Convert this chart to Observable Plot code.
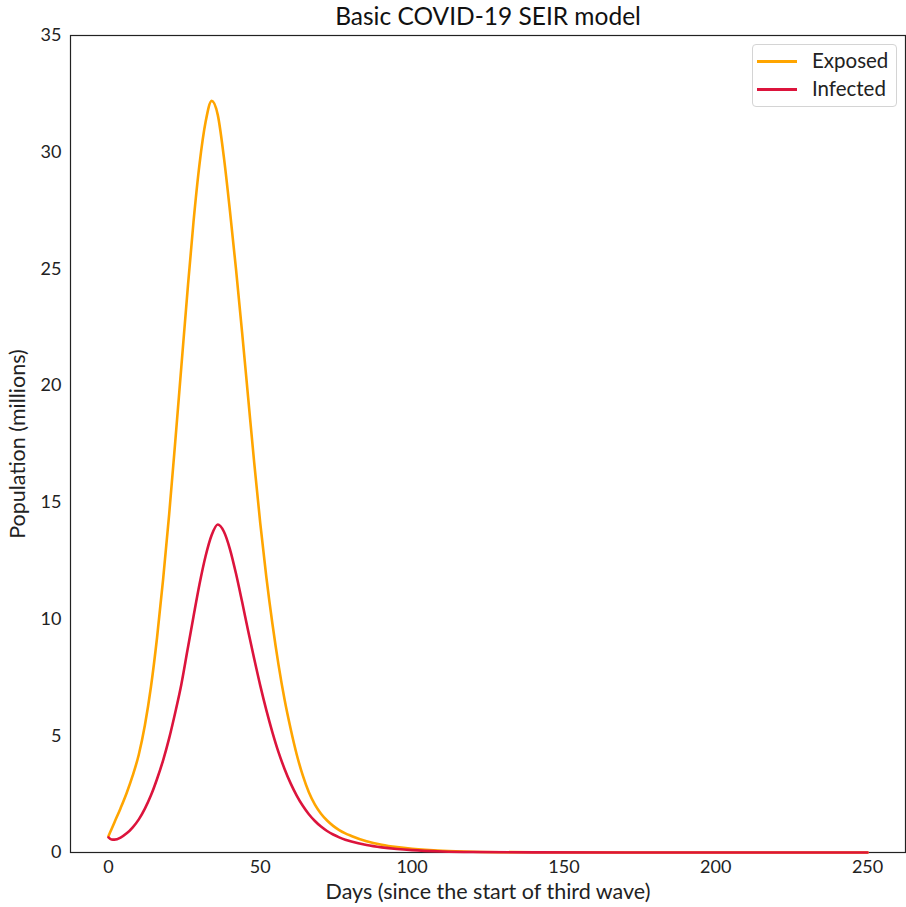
<!DOCTYPE html>
<html>
<head>
<meta charset="utf-8">
<script src="https://cdn.jsdelivr.net/npm/d3@7"></script>
<script src="https://cdn.jsdelivr.net/npm/@observablehq/plot@0.6"></script>
<style>
  body { margin: 0; background: white; font-family: Lato, sans-serif; }
  #wrap { position: relative; width: 906px; height: 907px; }
  #legend { position: absolute; left: 752px; top: 44px; width: 143px; height: 61px;
    border: 1px solid #d4d4d4; border-radius: 4px; background: rgba(255,255,255,0.85);
    font-family: Lato, sans-serif; font-size: 20.5px; color: #222; }
  .entry { position: absolute; left: 0; height: 22px; }
  .entry .ln { position: absolute; left: 4px; width: 40px; height: 3px; top: 10px; }
  .entry .tx { position: absolute; left: 59px; top: -2px; white-space: nowrap; line-height: 24px; }
</style>
</head>
<body>
<div id="wrap"></div>
<script>
const days = [0,1,2,4,6,8,10,12,14,16,18,20,22,24,26,28,30,32,34,36,38,40,42,44,46,48,50,52,54,56,58,60,62,64,66,68,70,72,74,76,78,80,85,90,95,100,110,120,140,170,200,250];
const exposed = [0.7,1.0,1.3,1.9,2.55,3.3,4.2,5.45,7.1,9.2,11.7,14.5,17.6,20.8,24.0,27.0,29.5,31.3,32.2,31.6,29.8,27.5,25.0,22.3,19.5,16.7,14.1,11.8,9.8,8.05,6.55,5.3,4.2,3.3,2.58,2.05,1.66,1.37,1.14,0.96,0.82,0.71,0.48,0.33,0.23,0.16,0.075,0.035,0.008,0.001,0,0];
const infected = [0.65,0.56,0.55,0.64,0.82,1.08,1.42,1.88,2.45,3.15,3.95,4.9,6.0,7.2,8.65,10.1,11.5,12.7,13.6,14.05,13.75,13.0,11.95,10.75,9.5,8.3,7.15,6.1,5.15,4.3,3.58,2.96,2.44,2.0,1.64,1.35,1.11,0.92,0.77,0.65,0.55,0.47,0.32,0.22,0.15,0.1,0.045,0.02,0.004,0.0004,0,0];
const seriesNames = ["Exposed", "Infected"];
const seriesColors = ["#FFA500", "#DC143C"];
const xTicks = [0,50,100,150,200,250];
const yTicks = [0,5,10,15,20,25,30,35];
const titleText = "Basic COVID-19 SEIR model";
const xLabel = "Days (since the start of third wave)";
const yLabel = "Population (millions)";

const rows = [];
days.forEach((d, i) => {
  rows.push({day: d, value: exposed[i], series: seriesNames[0]});
});
days.forEach((d, i) => {
  rows.push({day: d, value: infected[i], series: seriesNames[1]});
});

const chart = Plot.plot({
  width: 906,
  height: 907,
  marginLeft: 70,
  marginRight: 1,
  marginTop: 35,
  marginBottom: 55,
  style: {fontFamily: "Lato, sans-serif", fontSize: "18px", color: "#222", background: "white"},
  x: {domain: [-12.5, 262.5], ticks: xTicks, tickSize: 0, tickPadding: 8, label: null},
  y: {domain: [0, 35], ticks: yTicks, tickSize: 0, tickPadding: 9, label: null},
  color: {domain: seriesNames, range: seriesColors},
  marks: [
    Plot.frame({stroke: "#222", strokeWidth: 1.2}),
    Plot.line(rows, {x: "day", y: "value", stroke: "series", z: "series", strokeWidth: 2.6, curve: "monotone-x"}),
    Plot.text([titleText], {text: d => d, frameAnchor: "top", lineAnchor: "middle", dy: -18, fontSize: 24.5, fill: "#111"}),
    Plot.text([xLabel], {text: d => d, frameAnchor: "bottom", lineAnchor: "middle", dy: 40, fontSize: 21.5, fill: "#222"}),
    Plot.text([yLabel], {text: d => d, frameAnchor: "left", textAnchor: "middle", lineAnchor: "middle", dx: -52, rotate: -90, fontSize: 21.5, fill: "#222"})
  ]
});

const wrap = document.getElementById("wrap");
wrap.appendChild(chart);
const legend = document.createElement("div");
legend.id = "legend";
seriesNames.forEach((name, i) => {
  const e = document.createElement("div");
  e.className = "entry";
  e.style.top = (5 + i * 28) + "px";
  e.style.width = "143px";
  const ln = document.createElement("div");
  ln.className = "ln";
  ln.style.background = seriesColors[i];
  const tx = document.createElement("div");
  tx.className = "tx";
  tx.textContent = name;
  e.appendChild(ln); e.appendChild(tx);
  legend.appendChild(e);
});
wrap.appendChild(legend);
</script>
</body>
</html>
